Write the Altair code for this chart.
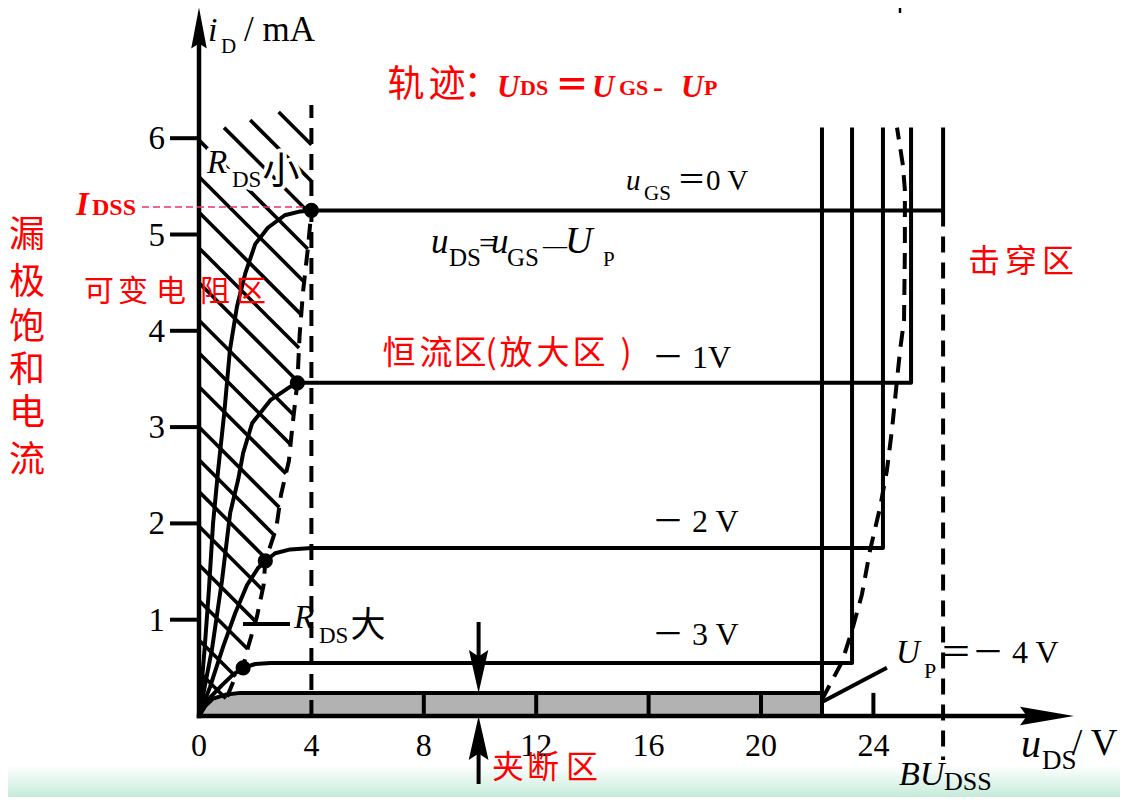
import altair as alt
import numpy as np
import pandas as pd

# ---------------- data (uDS in V, iD in mA) ----------------
ugs0_u = [0, 0.2, 0.35, 0.5, 0.68, 0.9, 1.1, 1.35, 1.65, 2.0, 2.45, 3.05, 3.6, 4.0, 26.48, 26.48]
ugs0_i = [0, 0.7, 1.3, 2.0, 2.55, 3.15, 3.8, 4.25, 4.6, 4.9, 5.07, 5.2, 5.24, 5.25, 5.25, 6.11]
ugs1_u = [0, 0.46, 0.82, 1.11, 1.39, 1.57, 1.89, 2.54, 3.25, 3.5, 25.34, 25.34]
ugs1_i = [0, 0.69, 1.41, 2.11, 2.45, 2.73, 3.04, 3.28, 3.42, 3.46, 3.46, 6.11]
ugs2_u = [0, 0.39, 0.86, 1.29, 1.71, 2.11, 2.36, 2.71, 3.25, 4.0, 24.34, 24.34]
ugs2_i = [0, 0.30, 0.72, 1.07, 1.36, 1.54, 1.61, 1.69, 1.73, 1.745, 1.745, 6.11]
ugs3_u = [0, 0.39, 0.82, 1.21, 1.57, 2.0, 2.54, 23.24, 23.24]
ugs3_i = [0, 0.19, 0.32, 0.43, 0.50, 0.54, 0.55, 0.55, 6.11]
ugs4_u = [0, 0.21, 0.5, 0.93, 1.46, 22.17, 22.17]
ugs4_i = [0, 0.10, 0.18, 0.22, 0.24, 0.24, 6.11]

pinch_u = [4.0, 3.5, 2.36, 1.57]
pinch_i = [5.25, 3.46, 1.61, 0.50]

left_locus_u = [1.0, 1.28, 1.57, 1.75, 2.06, 2.3, 2.36, 2.75, 2.92, 3.2, 3.32, 3.5, 3.58, 3.7, 3.88, 4.0]
left_locus_i = [0.2, 0.4, 0.51, 0.72, 1.03, 1.36, 1.61, 1.95, 2.3, 2.65, 3.0, 3.46, 3.95, 4.4, 4.87, 5.25]
right_locus_u = [22.17, 22.88, 23.24, 23.59, 23.88, 24.24, 24.48, 24.66, 24.84, 24.95, 25.09, 25.12, 25.12, 25.05, 24.84]
right_locus_i = [0.17, 0.56, 0.89, 1.26, 1.72, 2.17, 2.55, 2.97, 3.49, 3.80, 4.11, 4.84, 5.46, 5.72, 6.11]

hatch_b = [7.10, 6.72, 6.37, 5.98, 5.60, 5.23, 4.86, 4.50, 4.11, 3.77, 3.42, 3.00,
           2.66, 2.33, 1.97, 1.57, 1.20, 0.79, 0.46]
hatch_top = (6.035, 0.084)   # top edge of the hatching: iD = a + b*uDS

x_tick_values = [0, 4, 8, 12, 16, 20, 24]
x_tick_labels = ["0", "4", "8", "12", "16", "20", "24"]
y_tick_values = [1, 2, 3, 4, 5, 6]
bar_ticks = [8, 12, 16, 20, 24]
IDSS = 5.25
UP_ABS = 4.0
BUDSS = 26.48
CUTOFF_I = 0.24
TOP_I = 6.11
ARROW_U = 9.95

# ---------------- layout ----------------
W, H = 1112, 789
PX_V, PX_MA = 28.1, 96.3
X0, Y0 = 199, 716


def u_of(px):
    return (px - X0) / PX_V


def i_of(py):
    return (Y0 - py) / PX_MA


XS = alt.Scale(domain=[u_of(8), u_of(8 + W)], nice=False, zero=False)
YS = alt.Scale(domain=[i_of(8 + H), i_of(8)], nice=False, zero=False)


def X(f):
    return alt.X(f, type="quantitative", scale=XS, axis=None)


def Y(f):
    return alt.Y(f, type="quantitative", scale=YS, axis=None)


SERIF = "Liberation Serif"
CJK = "Noto Sans CJK SC"
MIX = '"Liberation Serif", "Noto Sans CJK SC"'

layers = []

# background band at the bottom
band = pd.DataFrame({"u": [u_of(8)], "u2": [u_of(8 + W)], "i": [i_of(765)], "i2": [i_of(8 + H)]})
layers.append(alt.Chart(band).mark_rect(
    color={"gradient": "linear", "x1": 0, "y1": 0, "x2": 0, "y2": 1,
           "stops": [{"offset": 0, "color": "#ffffff"}, {"offset": 1, "color": "#c6ebda"}]}
).encode(x=X("u"), x2="u2", y=Y("i"), y2="i2"))

# cut-off (hatched) bar
cut = pd.DataFrame({"u": ugs4_u[:6], "i": ugs4_i[:6], "z": [0] * 6})
layers.append(alt.Chart(cut).mark_area(color="#b2b2b2", opacity=1).encode(x=X("u"), y=Y("i"), y2="z"))

# hatching lines of the variable-resistance region
K = PX_V / PX_MA
calc_u = [0.6] + left_locus_u
calc_i = [0.05] + left_locus_i
hrows = []
for b in hatch_b:
    u0 = max(0.0, (b - hatch_top[0]) / (K + hatch_top[1]))
    ys = np.linspace(0.0, b, 4000)
    f = (b - ys) / K - np.interp(ys, calc_i, calc_u)
    ok = np.where(f >= 0)[0]
    y_end = ys[ok.max()]
    u1 = (b - y_end) / K
    if u1 > u0:
        hrows.append({"u": u0, "i": b - K * u0, "u2": u1, "i2": y_end})
layers.append(alt.Chart(pd.DataFrame(hrows)).mark_rule(color="black", strokeWidth=3.6).encode(
    x=X("u"), y=Y("i"), x2="u2", y2="i2"))

# dashed lines
drows = []
for name, us, is_ in [("L", left_locus_u, left_locus_i), ("R", right_locus_u, right_locus_i),
                      ("V4", [UP_ABS, UP_ABS], [0, i_of(105)]),
                      ("BV", [BUDSS, BUDSS], [IDSS, i_of(760)])]:
    for k, (a, c) in enumerate(zip(us, is_)):
        drows.append({"s": name, "k": k, "u": a, "i": c})
layers.append(alt.Chart(pd.DataFrame(drows)).mark_line(
    color="black", strokeWidth=4, strokeDash=[16, 10]).encode(
    x=X("u"), y=Y("i"), detail="s:N", order="k:Q"))

# characteristic curves
crows = []
for name, us, is_ in [("0", ugs0_u, ugs0_i), ("-1", ugs1_u, ugs1_i), ("-2", ugs2_u, ugs2_i),
                      ("-3", ugs3_u, ugs3_i), ("-4", ugs4_u, ugs4_i)]:
    for k, (a, c) in enumerate(zip(us, is_)):
        crows.append({"s": name, "k": k, "u": a, "i": c})
layers.append(alt.Chart(pd.DataFrame(crows)).mark_line(
    color="black", strokeWidth=4, strokeJoin="round").encode(
    x=X("u"), y=Y("i"), detail="s:N", order="k:Q"))

# axes lines
axes = pd.DataFrame([
    {"u": 0, "i": 0, "u2": u_of(1040), "i2": 0},
    {"u": 0, "i": 0, "u2": 0, "i2": i_of(40)},
])
layers.append(alt.Chart(axes).mark_rule(color="black", strokeWidth=4.5, strokeCap="square").encode(
    x=X("u"), y=Y("i"), x2="u2", y2="i2"))

# ticks, pointers, arrow shafts
rr = []
for v in y_tick_values:
    rr.append({"u": u_of(170), "i": v, "u2": 0, "i2": v})
for v in bar_ticks:
    rr.append({"u": v, "i": 0, "u2": v, "i2": CUTOFF_I})
rr.append({"u": ugs4_u[-1], "i": 0, "u2": ugs4_u[-1], "i2": CUTOFF_I})
rr.append({"u": ugs4_u[-1], "i": 0.145, "u2": 24.48, "i2": 0.50})
rr.append({"u": u_of(243), "i": i_of(624), "u2": u_of(290), "i2": i_of(624)})
rr.append({"u": ARROW_U, "i": i_of(622), "u2": ARROW_U, "i2": i_of(660)})
rr.append({"u": ARROW_U, "i": i_of(784), "u2": ARROW_U, "i2": i_of(752)})
layers.append(alt.Chart(pd.DataFrame(rr)).mark_rule(color="black", strokeWidth=4).encode(
    x=X("u"), y=Y("i"), x2="u2", y2="i2"))
# small bar at the top right edge
tr = pd.DataFrame({"u": [u_of(900)], "i": [i_of(8)], "u2": [u_of(900)], "i2": [i_of(13)]})
layers.append(alt.Chart(tr).mark_rule(color="black", strokeWidth=2.5).encode(
    x=X("u"), y=Y("i"), x2="u2", y2="i2"))

# IDSS red dashed line
idl = pd.DataFrame({"u": [u_of(142)], "i": [i_of(207)], "u2": [UP_ABS], "i2": [i_of(207)]})
layers.append(alt.Chart(idl).mark_rule(color="#e8336f", strokeWidth=1.3, strokeDash=[7, 4]).encode(
    x=X("u"), y=Y("i"), x2="u2", y2="i2"))

# pinch-off dots
layers.append(alt.Chart(pd.DataFrame({"u": pinch_u, "i": pinch_i})).mark_point(
    filled=True, color="black", opacity=1, size=230, shape="circle").encode(x=X("u"), y=Y("i")))

# arrow heads
heads = [
    (0, i_of(28), "M0,-1L0.38,1L0,0.75L-0.38,1Z", 1681),
    (u_of(1047), 0, "M1,0L-1,-0.34L-0.75,0L-1,0.34Z", 2916),
    (ARROW_U, i_of(671.5), "M0,1L-0.45,-1L0,-0.7L0.45,-1Z", 1849),
    (ARROW_U, i_of(738), "M0,-1L0.45,1L0,0.7L-0.45,1Z", 1936),
]
for a, c, shp, sz in heads:
    layers.append(alt.Chart(pd.DataFrame({"u": [a], "i": [c]})).mark_point(
        filled=True, color="black", opacity=1, size=sz, shape=shp, strokeWidth=0).encode(
        x=X("u"), y=Y("i")))

# tick labels
layers.append(alt.Chart(pd.DataFrame({"i": y_tick_values, "t": [str(v) for v in y_tick_values],
                                      "u": [u_of(165)] * len(y_tick_values)})).mark_text(
    font=SERIF, fontSize=33, align="right", baseline="alphabetic", dy=11, color="black").encode(
    x=X("u"), y=Y("i"), text="t:N"))
layers.append(alt.Chart(pd.DataFrame({"u": x_tick_values, "t": x_tick_labels,
                                      "i": [i_of(756)] * len(x_tick_values)})).mark_text(
    font=SERIF, fontSize=32, align="center", baseline="alphabetic", color="black").encode(
    x=X("u"), y=Y("i"), text="t:N"))


def texts(rows, font, style="normal", weight="normal", color="black", align="left", halo=False):
    out = []
    for t, px, py, s in rows:
        df = pd.DataFrame({"u": [u_of(px)], "i": [i_of(py)], "t": [t]})
        kw = dict(font=font, fontSize=s, fontStyle=style, fontWeight=weight, align=align,
                  baseline="alphabetic")
        if halo:
            out.append(alt.Chart(df).mark_text(color="white", stroke="white", strokeWidth=8,
                                               strokeJoin="round", **kw).encode(
                x=X("u"), y=Y("i"), text="t:N"))
        out.append(alt.Chart(df).mark_text(color=color, **kw).encode(x=X("u"), y=Y("i"), text="t:N"))
    return out


layers += texts([("/ mA", 244, 41, 35), ("D", 221, 53, 21), ("/ V", 1072, 755, 37),
                 ("DS", 1042, 769, 27), ("DSS", 944, 790, 26), ("P", 924, 678, 22),
                 ("GS", 644, 200, 21), ("DS", 449, 266, 25), ("=", 479, 253, 30),
                 ("GS", 507, 266, 25), ("—", 543, 253, 24), ("P", 603, 266, 21),
                 ("DS", 319, 643, 23)], SERIF)
layers += texts([("i", 208, 41, 34), ("u", 1021, 757, 40), ("BU", 899, 785, 34),
                 ("U", 896, 663, 33), ("u", 626, 190, 29), ("u", 431, 253, 35),
                 ("u", 491, 253, 35), ("U", 565, 253, 38), ("R", 294, 628, 33)], SERIF, style="italic")
layers += texts([("R", 207, 173, 33)], SERIF, style="italic", halo=True)
layers += texts([("DS", 232, 187, 23)], SERIF, halo=True)
layers += texts([("小", 281, 184, 37)], CJK, align="center", halo=True)
layers += texts([("大", 368, 637, 35)], CJK, align="center")
layers += texts([("＝－ 4 V", 940, 663, 32), ("＝0 V", 677, 190, 29), ("－ 1V", 652, 368, 32),
                 ("－ 2 V", 652, 532, 32), ("－ 3 V", 652, 645, 32)], MIX)

RED = "#ff0000"
red_cjk = [("轨", 406, 97, 37), ("迹", 447, 97, 37), ("：", 482, 97, 37)]
for ch, cy in zip("漏极饱和电流", [233, 280, 325, 368, 411, 458]):
    red_cjk.append((ch, 27, cy + 13.5, 36))
for ch, cx in zip("可变电阻区", [99, 133, 171, 215, 251]):
    red_cjk.append((ch, cx, 301, 30))
for ch, cx in zip("恒流区(放大区)", [399, 436, 470, 491, 516, 553, 589, 626]):
    red_cjk.append((ch, cx, 364, 33))
for ch, cx in zip("击穿区", [984, 1021, 1058]):
    red_cjk.append((ch, cx, 272, 32))
for ch, cx in zip("夹断区", [508, 543, 582]):
    red_cjk.append((ch, cx, 778, 32))
layers += texts(red_cjk, CJK, color=RED, align="center")
layers += texts([("＝", 572, 97, 34)], CJK, weight="bold", color=RED, align="center")
layers += texts([("U", 497, 97, 31), ("U", 592, 97, 31), ("U", 681, 97, 31), ("I", 76, 215, 33)],
                SERIF, style="italic", weight="bold", color=RED)
layers += texts([("DS", 520, 95, 22), ("GS", 619, 95, 22), ("-", 653, 97, 30), ("P", 704, 95, 22),
                 ("DSS", 92, 215, 24)], SERIF, weight="bold", color=RED)

chart = alt.layer(*layers).properties(
    width=W, height=H, padding=0, background="white",
    autosize=alt.AutoSizeParams(type="none"),
).configure_view(stroke=None)

chart.save("out.html", embed_options={"renderer": "svg", "actions": False})
